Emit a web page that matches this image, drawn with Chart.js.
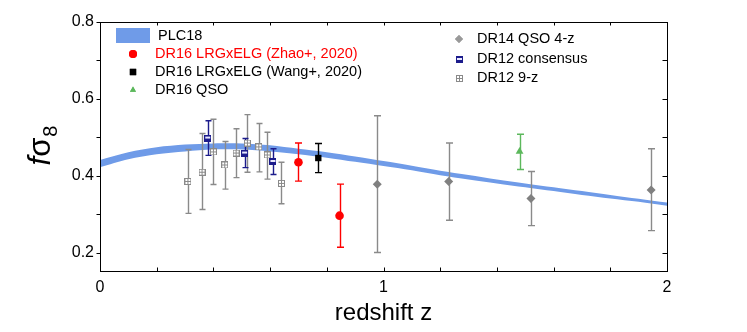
<!DOCTYPE html>
<html>
<head>
<meta charset="utf-8">
<script src="https://cdn.jsdelivr.net/npm/chart.js@4/dist/chart.umd.min.js"></script>
<style>
  body { margin: 0; background: #fff; }
  #wrap { width: 747px; height: 332px; }
</style>
</head>
<body>
<div id="wrap"><canvas id="chart" width="747" height="332"></canvas></div>
<script>
// Banda PLC18 (limites superior e inferior)
const bandZ = [0, 0.1, 0.2, 0.3, 0.4, 0.5, 0.6, 0.7, 0.8, 0.9, 1.0, 1.1, 1.2, 1.3, 1.4, 1.5, 1.6, 1.7, 1.8, 1.9, 2.0];
const bandHi = [0.441, 0.461, 0.474, 0.481, 0.484, 0.484, 0.479, 0.470, 0.461, 0.450, 0.438, 0.426, 0.413, 0.402, 0.390, 0.380, 0.370, 0.360, 0.350, 0.340, 0.330];
const bandLo = [0.422, 0.443, 0.456, 0.463, 0.468, 0.468, 0.463, 0.456, 0.447, 0.436, 0.425, 0.414, 0.401, 0.390, 0.380, 0.370, 0.360, 0.350, 0.341, 0.332, 0.322];

// DR12 9-z
const z9 = [0.31, 0.36, 0.40, 0.44, 0.48, 0.52, 0.56, 0.59, 0.64];
const f9 = [0.385, 0.409, 0.462, 0.428, 0.459, 0.485, 0.475, 0.454, 0.380];
const f9Hi = [0.468, 0.510, 0.547, 0.489, 0.522, 0.559, 0.536, 0.513, 0.435];
const f9Lo = [0.302, 0.312, 0.377, 0.365, 0.395, 0.409, 0.410, 0.391, 0.327];

// DR12 consensus
const zCons = [0.38, 0.51, 0.61];
const fCons = [0.498, 0.459, 0.437];
const fConsHi = [0.543, 0.497, 0.470];
const fConsLo = [0.453, 0.421, 0.403];

// DR16 LRGxELG (Zhao+, 2020)
const zZhao = [0.70, 0.845];
const fZhao = [0.435, 0.296];
const fZhaoHi = [0.485, 0.378];
const fZhaoLo = [0.386, 0.214];

// DR16 LRGxELG (Wang+, 2020)
const zWang = [0.77];
const fWang = [0.446];
const fWangHi = [0.484];
const fWangLo = [0.408];

// DR16 QSO
const zQso = [1.48];
const fQso = [0.463];
const fQsoHi = [0.508];
const fQsoLo = [0.416];

// DR14 QSO 4-z
const zDr14 = [0.978, 1.23, 1.52, 1.944];
const fDr14 = [0.378, 0.385, 0.341, 0.363];
const fDr14Hi = [0.556, 0.485, 0.411, 0.470];
const fDr14Lo = [0.200, 0.284, 0.270, 0.257];

const xTickLabels = [0, 1, 2];
const yTickLabels = [0.2, 0.4, 0.6, 0.8];

const FONT = '"Liberation Sans", Arial, sans-serif';
const BLUE = "#6f9be8";
const GRAY = "#8a8a8a";
const NAVY = "#1c1c8c";
const RED = "#ff0000";
const GREEN = "#5cb85c";

const pts = (xs, ys) => xs.map((x, i) => ({ x: x, y: ys[i] }));

// marcadores desenhados em canvas
function boxCross(size) {
  const c = document.createElement("canvas");
  c.width = size; c.height = size;
  const g = c.getContext("2d");
  g.fillStyle = "#fff";
  g.fillRect(0, 0, size, size);
  g.strokeStyle = GRAY;
  g.lineWidth = 1;
  g.strokeRect(0.5, 0.5, size - 1, size - 1);
  g.beginPath();
  g.moveTo(size / 2, 1); g.lineTo(size / 2, size - 1);
  g.moveTo(1, size / 2); g.lineTo(size - 1, size / 2);
  g.stroke();
  return c;
}
function consBox(size) {
  const c = document.createElement("canvas");
  c.width = size; c.height = size;
  const g = c.getContext("2d");
  g.fillStyle = NAVY;
  g.fillRect(0, 0, size, size);
  g.fillStyle = "#e8e8ff";
  g.fillRect(1, Math.round(size * 0.3), size - 2, 2);
  return c;
}
const mark9 = boxCross(7);
const markCons = consBox(7);

const datasets = [
  { label: "PLC18 lo", data: pts(bandZ, bandLo), showLine: true, borderWidth: 0, pointRadius: 0, borderColor: BLUE, fill: false, tension: 0.3, order: 5, band: true },
  { label: "PLC18", data: pts(bandZ, bandHi), showLine: true, borderWidth: 0, pointRadius: 0, borderColor: BLUE, backgroundColor: BLUE, fill: "-1", tension: 0.3, order: 5, band: true },
  { label: "DR12 9-z", data: pts(z9, f9), pointStyle: mark9, pointRadius: 4, errHi: f9Hi, errLo: f9Lo, errColor: GRAY, cap: 3 },
  { label: "DR12 consensus", data: pts(zCons, fCons), pointStyle: markCons, pointRadius: 4, errHi: fConsHi, errLo: fConsLo, errColor: NAVY, cap: 3 },
  { label: "DR14 QSO 4-z", data: pts(zDr14, fDr14), pointStyle: "rectRot", pointRadius: 4.5, backgroundColor: "#808080", borderColor: "#808080", borderWidth: 0, errHi: fDr14Hi, errLo: fDr14Lo, errColor: GRAY, cap: 3.5 },
  { label: "DR16 QSO", data: pts(zQso, fQso), pointStyle: "triangle", pointRadius: 4.5, backgroundColor: GREEN, borderColor: GREEN, borderWidth: 0, errHi: fQsoHi, errLo: fQsoLo, errColor: GREEN, cap: 3.5 },
  { label: "DR16 LRGxELG (Wang+, 2020)", data: pts(zWang, fWang), pointStyle: "rect", pointRadius: 4.5, backgroundColor: "#000", borderColor: "#000", borderWidth: 0, errHi: fWangHi, errLo: fWangLo, errColor: "#000", cap: 3.5 },
  { label: "DR16 LRGxELG (Zhao+, 2020)", data: pts(zZhao, fZhao), pointStyle: "circle", pointRadius: 4.3, backgroundColor: RED, borderColor: RED, borderWidth: 0, errHi: fZhaoHi, errLo: fZhaoLo, errColor: RED, cap: 3.5 },
];

// barras de erro, moldura, ticks, legenda e título do eixo y
const decor = {
  id: "decor",
  beforeDatasetsDraw(chart) { chart._ebDone = false; },
  beforeDatasetDraw(chart, args) {
    const ds = chart.data.datasets[args.index];
    if (ds.band || chart._ebDone) return;
    chart._ebDone = true;
    const ctx = chart.ctx, xs = chart.scales.x, ys = chart.scales.y;
    ctx.save();
    chart.data.datasets.forEach((d) => {
      if (!d.errHi) return;
      ctx.strokeStyle = d.errColor;
      ctx.lineWidth = 1.4;
      d.data.forEach((p, i) => {
        const px = Math.round(xs.getPixelForValue(p.x)) + 0.5;
        const top = ys.getPixelForValue(d.errHi[i]);
        const bot = ys.getPixelForValue(d.errLo[i]);
        ctx.beginPath();
        ctx.moveTo(px, top); ctx.lineTo(px, bot);
        ctx.moveTo(px - d.cap, top); ctx.lineTo(px + d.cap, top);
        ctx.moveTo(px - d.cap, bot); ctx.lineTo(px + d.cap, bot);
        ctx.stroke();
      });
    });
    ctx.restore();
  },
  afterDraw(chart) {
    const ctx = chart.ctx, a = chart.chartArea, xs = chart.scales.x, ys = chart.scales.y;
    ctx.save();
    ctx.strokeStyle = "#000";
    ctx.lineWidth = 1;
    const L = Math.round(a.left) + 0.5, R = Math.round(a.right) + 0.5;
    const T = Math.round(a.top) + 0.5, B = Math.round(a.bottom) + 0.5;
    ctx.strokeRect(L, T, R - L, B - T);
    ctx.beginPath();
    for (let v = 0; v <= 2.0001; v += 0.2) {
      const px = Math.round(xs.getPixelForValue(v)) + 0.5;
      ctx.moveTo(px, B); ctx.lineTo(px, B - 4);
      ctx.moveTo(px, T); ctx.lineTo(px, T + 3);
    }
    for (let v = 0.2; v <= 0.8001; v += 0.1) {
      const py = Math.round(ys.getPixelForValue(v)) + 0.5;
      ctx.moveTo(L, py); ctx.lineTo(L - 4, py);
      ctx.moveTo(R, py); ctx.lineTo(R - 5, py);
    }
    ctx.stroke();

    // legenda
    ctx.font = "14.5px " + FONT;
    ctx.textBaseline = "middle";
    ctx.textAlign = "left";
    ctx.fillStyle = BLUE;
    ctx.fillRect(116, 28, 34, 15);
    ctx.fillStyle = "#000";
    ctx.fillText("PLC18", 158, 36);
    const left = [
      ["DR16 LRGxELG (Zhao+, 2020)", RED, 54, "circle", 4],
      ["DR16 LRGxELG (Wang+, 2020)", "#000", 72, "rect", 4.5],
      ["DR16 QSO", GREEN, 90, "triangle", 3.5],
    ];
    left.forEach(([t, c, y, s, r]) => {
      ctx.fillStyle = c; ctx.strokeStyle = c;
      Chart.helpers.drawPoint(ctx, { pointStyle: s, radius: r, borderWidth: 0 }, 133, y);
      ctx.fill();
      ctx.fillStyle = c === RED ? RED : "#000";
      ctx.fillText(t, 155, y);
    });
    ctx.fillStyle = "#999";
    Chart.helpers.drawPoint(ctx, { pointStyle: "rectRot", radius: 4, borderWidth: 0 }, 459, 39);
    ctx.fill();
    ctx.drawImage(consBox(7), 456, 56);
    ctx.drawImage(boxCross(7), 456, 75);
    ctx.fillStyle = "#000";
    ctx.fillText("DR14 QSO 4-z", 477, 39);
    ctx.fillText("DR12 consensus", 477, 59);
    ctx.fillText("DR12 9-z", 477, 78);

    // título do eixo y: f sigma_8
    ctx.translate(50, 146);
    ctx.rotate(-Math.PI / 2);
    ctx.textBaseline = "alphabetic";
    ctx.font = "italic 31px " + FONT;
    const fW = ctx.measureText("f").width;
    ctx.font = "31px " + FONT;
    const sW = ctx.measureText("σ").width;
    ctx.font = "20px " + FONT;
    const eW = ctx.measureText("8").width;
    let x0 = -(fW + sW + eW) / 2;
    ctx.font = "italic 31px " + FONT;
    ctx.fillText("f", x0, 0);
    ctx.font = "31px " + FONT;
    ctx.fillText("σ", x0 + fW, 0);
    ctx.font = "20px " + FONT;
    ctx.fillText("8", x0 + fW + sW + 1, 7);
    ctx.restore();
  },
};

const chart = new Chart(document.getElementById("chart"), {
  type: "scatter",
  data: { datasets: datasets },
  options: {
    responsive: false,
    animation: false,
    events: [],
    layout: { padding: { left: 0, right: 80, top: 22, bottom: 0 } },
    plugins: { legend: { display: false }, tooltip: { enabled: false } },
    scales: {
      x: {
        type: "linear",
        min: 0,
        max: 2,
        afterFit: (s) => { s.height = 61; },
        afterBuildTicks: (s) => { s.ticks = xTickLabels.map((v) => ({ value: v })); },
        grid: { display: false, drawTicks: false },
        border: { display: false },
        ticks: { color: "#000", font: { family: FONT, size: 16 }, padding: 7, callback: (v) => String(v) },
        title: { display: true, text: "redshift z", color: "#000", font: { family: FONT, size: 24 }, padding: { top: 2 } },
      },
      y: {
        type: "linear",
        min: 0.152,
        max: 0.8,
        afterFit: (s) => { s.width = 100; },
        afterBuildTicks: (s) => { s.ticks = yTickLabels.map((v) => ({ value: v })); },
        grid: { display: false, drawTicks: false },
        border: { display: false },
        ticks: { color: "#000", font: { family: FONT, size: 16 }, padding: 6, callback: (v) => v.toFixed(1) },
      },
    },
  },
  plugins: [decor],
});
</script>
</body>
</html>
